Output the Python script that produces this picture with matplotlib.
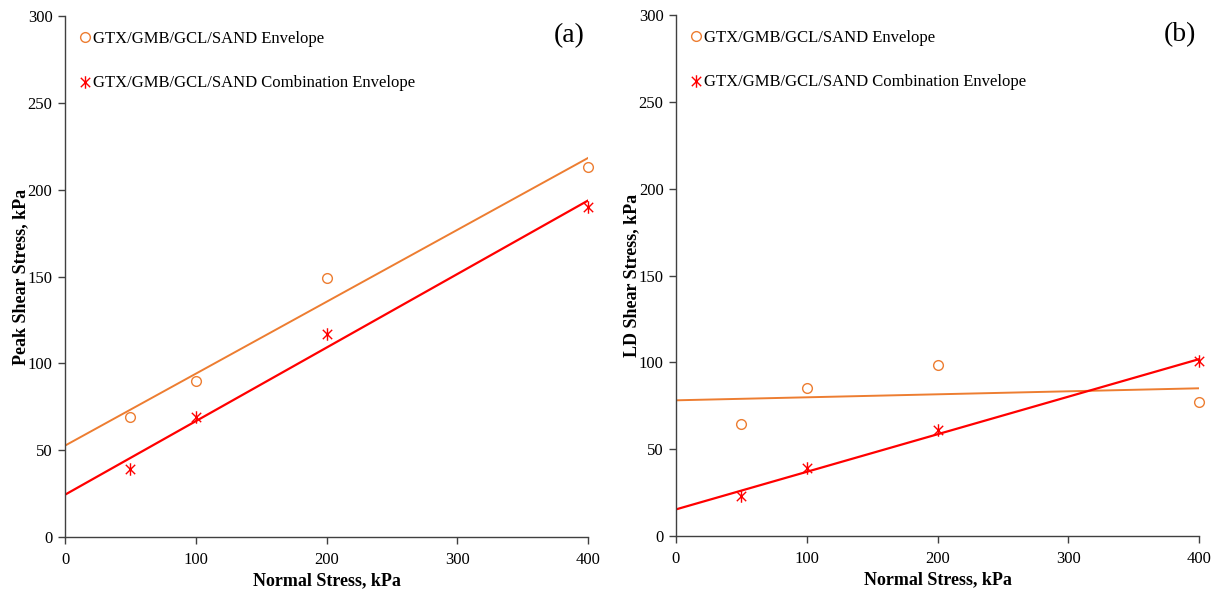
import numpy as np
import matplotlib
matplotlib.use("Agg")
import matplotlib.pyplot as plt
from matplotlib.path import Path

plt.rcParams['font.family'] = ['Liberation Serif', 'DejaVu Serif']

# Normal stress levels (kPa)
normal_stress = [50, 100, 200, 400]

# (a) peak shear strength
peak_envelope = [69, 90, 149, 213]
peak_combination = [39, 69, 117, 190]

# (b) large-displacement shear strength
ld_envelope = [64.5, 85.5, 98.5, 77]
ld_combination = [23, 39, 61, 100.5]

series_labels = ["GTX/GMB/GCL/SAND Envelope",
                 "GTX/GMB/GCL/SAND Combination Envelope"]
panel_tags = ["(a)", "(b)"]
y_labels = ["Peak Shear Stress, kPa", "LD Shear Stress, kPa"]
x_label = "Normal Stress, kPa"

ORANGE = "#ED7D31"
RED = "#FF0000"
AXIS_COLOR = "#404040"

# Star marker: a vertical bar crossed by an X
star_path = Path(
    [(0, -1), (0, 1), (-0.75, -0.75), (0.75, 0.75), (-0.75, 0.75), (0.75, -0.75)],
    [Path.MOVETO, Path.LINETO, Path.MOVETO, Path.LINETO, Path.MOVETO, Path.LINETO],
)

fig = plt.figure(figsize=(12.22, 5.94), dpi=100)
ax_a = fig.add_axes([65 / 1222, 57 / 594, 523 / 1222, 521 / 594])
ax_b = fig.add_axes([676 / 1222, 58 / 594, 523 / 1222, 521 / 594])

panels = [
    (ax_a, peak_envelope, peak_combination),
    (ax_b, ld_envelope, ld_combination),
]

x_fit = np.array([0, 400])
for i, (ax, env, comb) in enumerate(panels):
    x = np.array(normal_stress, dtype=float)
    # least-squares trendlines drawn across the full stress range
    p_env = np.polyfit(x, env, 1)
    p_comb = np.polyfit(x, comb, 1)
    ax.plot(x_fit, np.polyval(p_env, x_fit), color=ORANGE, lw=1.4, zorder=2)
    ax.plot(x_fit, np.polyval(p_comb, x_fit), color=RED, lw=1.6, zorder=2)

    ax.plot(x, env, linestyle="none", marker="o", ms=7, mfc="none",
            mec=ORANGE, mew=1.0, label=series_labels[0], zorder=3,
            clip_on=False)
    ax.plot(x, comb, linestyle="none", marker=star_path, ms=9,
            mec=RED, mew=1.0, label=series_labels[1], zorder=3,
            clip_on=False)

    ax.set_xlim(0, 400)
    ax.set_ylim(0, 300)
    ax.set_xticks([0, 100, 200, 300, 400])
    ax.set_yticks([0, 50, 100, 150, 200, 250, 300])

    for side in ("top", "right"):
        ax.spines[side].set_visible(False)
    for side in ("left", "bottom"):
        ax.spines[side].set_color(AXIS_COLOR)
        ax.spines[side].set_linewidth(1.0)
    ax.tick_params(axis="both", direction="out", length=5, width=1.0,
                   color=AXIS_COLOR, labelsize=12, labelcolor="black")
    ax.tick_params(axis="x", pad=6)
    ax.tick_params(axis="y", pad=4)

    ax.set_xlabel(x_label, fontsize=13, fontweight="bold", labelpad=3)
    ax.set_ylabel(y_labels[i], fontsize=13, fontweight="bold", labelpad=-1)

    ax.text(0.964, 0.963, panel_tags[i], transform=ax.transAxes,
            fontsize=20, ha="center", va="center")

    ax.legend(loc="upper left", bbox_to_anchor=(0.016, 0.984), frameon=False,
              fontsize=12, handlelength=0.6, handletextpad=0.2,
              labelspacing=1.7, borderaxespad=0.0, borderpad=0.4)

fig.savefig("out.png", dpi=100)
